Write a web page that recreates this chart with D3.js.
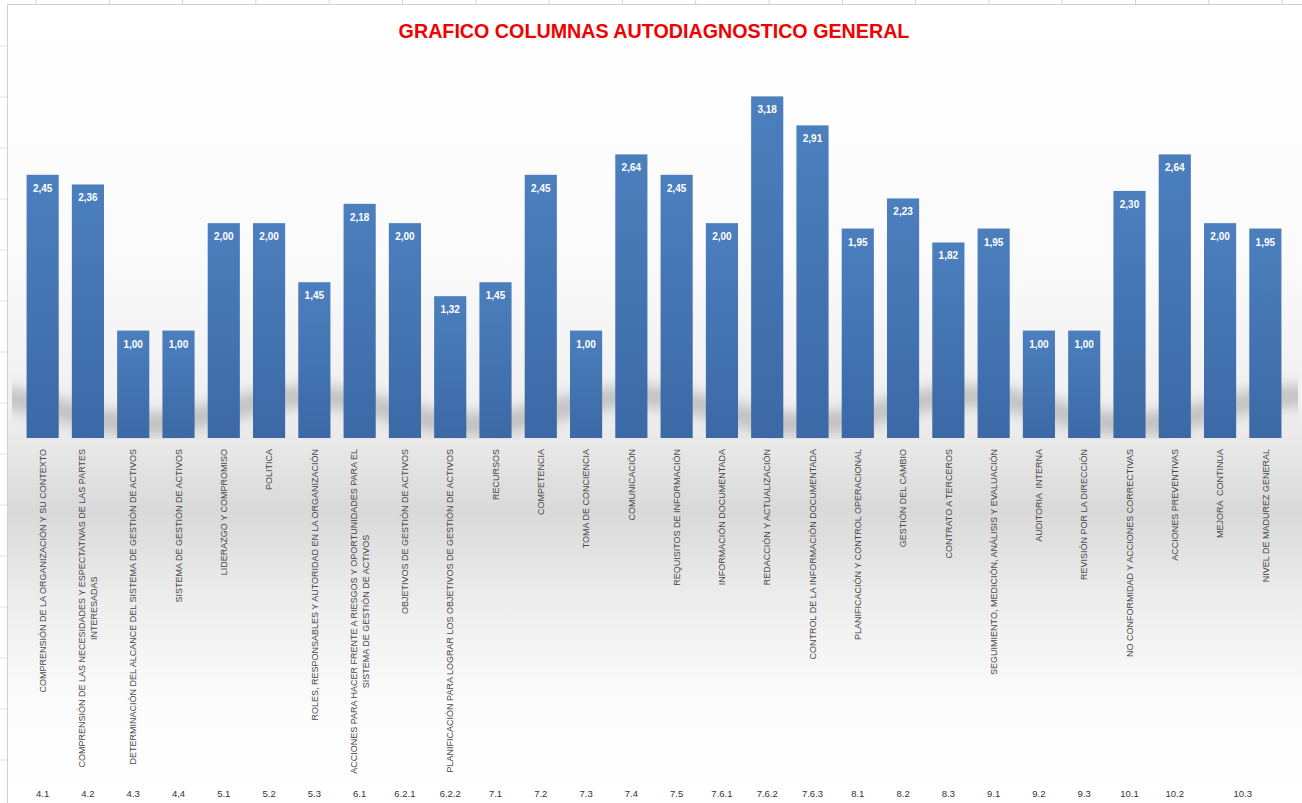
<!DOCTYPE html>
<html>
<head>
<meta charset="utf-8">
<script src="https://cdn.jsdelivr.net/npm/d3@7"></script>
<style>
  html, body { margin: 0; padding: 0; background: #fff; }
  svg text { font-family: "Liberation Sans", Arial, sans-serif; }
</style>
</head>
<body>
<div class="chart"></div>
<script>
// 차트 데이터
const categories = [
  'COMPRENSIÓN DE LA ORGANIZACIÓN Y SU CONTEXTO',
  'COMPRENSIÓN DE LAS NECESIDADES Y ESPECTATIVAS DE LAS PARTES\nINTERESADAS',
  'DETERMINACIÓN DEL ALCANCE DEL SISTEMA DE GESTIÓN DE ACTIVOS',
  'SISTEMA DE GESTIÓN DE ACTIVOS',
  'LIDERAZGO Y COMPROMISO',
  'POLITICA',
  'ROLES, RESPONSABLES Y AUTORIDAD EN LA ORGANIZACIÓN',
  'ACCIONES PARA HACER FRENTE A RIESGOS Y OPORTUNIDADES PARA EL\nSISTEMA DE GESTIÓN DE ACTIVOS',
  'OBJETIVOS DE GESTIÓN DE ACTIVOS',
  'PLANIFICACIÓN PARA LOGRAR LOS OBJETIVOS DE GESTIÓN DE ACTIVOS',
  'RECURSOS',
  'COMPETENCIA',
  'TOMA DE CONCIENCIA',
  'COMUNICACIÓN',
  'REQUISITOS DE INFORMACIÓN',
  'INFORMACIÓN DOCUMENTADA',
  'REDACCIÓN Y ACTUALIZACIÓN',
  'CONTROL DE LA INFORMACIÓN DOCUMENTADA',
  'PLANIFICACIÓN Y CONTROL OPERACIONAL',
  'GESTIÓN DEL CAMBIO',
  'CONTRATO A TERCEROS',
  'SEGUIMIENTO, MEDICIÓN, ANÁLISIS Y EVALUACIÓN',
  'AUDITORIA  INTERNA',
  'REVISIÓN POR LA DIRECCIÓN',
  'NO CONFORMIDAD Y ACCIONES CORRECTIVAS',
  'ACCIONES PREVENTIVAS',
  'MEJORA  CONTINUA',
  'NIVEL DE MADUREZ GENERAL'
];
const values = [2.45, 2.36, 1.00, 1.00, 2.00, 2.00, 1.45, 2.18, 2.00, 1.32, 1.45, 2.45, 1.00, 2.64,
                2.45, 2.00, 3.18, 2.91, 1.95, 2.23, 1.82, 1.95, 1.00, 1.00, 2.30, 2.64, 2.00, 1.95];
// 시트 셀 번호 (10.3은 마지막 두 항목 사이)
const codes = ['4.1', '4.2', '4.3', '4,4', '5.1', '5.2', '5.3', '6.1', '6.2.1', '6.2.2', '7.1', '7.2', '7.3', '7.4',
               '7.5', '7.6.1', '7.6.2', '7.6.3', '8.1', '8.2', '8.3', '9.1', '9.2', '9.3', '10.1', '10.2', '10.3'];
const title = 'GRAFICO COLUMNAS AUTODIAGNOSTICO GENERAL';
const yDomain = [0, 3.5];

const W = 1302, H = 803;
const data = categories.map((c, i) => ({ cat: c, value: values[i] }));

const x = d3.scaleBand(categories, [20, 1288]).paddingInner(0.29).paddingOuter(0.145);
const y = d3.scaleLinear(yDomain, [438, 62]);
const fmt = v => d3.format('.2f')(v).replace('.', ',');

const svg = d3.select('.chart').append('svg')
  .attr('width', W)
  .attr('height', H);

const defs = svg.append('defs');

// 배경 그라데이션
const bg = defs.append('linearGradient')
  .attr('id', 'bg').attr('x1', 0).attr('y1', 0).attr('x2', 0).attr('y2', 1);
[[0, '#ffffff'], [0.3, '#fbfbfb'], [0.5, '#f0f0f0'], [0.55, '#e8e8e8'], [0.63, '#d9d9d9'],
 [0.74, '#ededed'], [0.87, '#fcfcfc'], [1, '#ffffff']]
  .forEach(([o, c]) => bg.append('stop').attr('offset', o).attr('stop-color', c));

// 막대 그라데이션
const barGrad = defs.append('linearGradient')
  .attr('id', 'barGrad').attr('x1', 0).attr('y1', 0).attr('x2', 0).attr('y2', 1);
barGrad.append('stop').attr('offset', 0).attr('stop-color', '#4c7fbe');
barGrad.append('stop').attr('offset', 1).attr('stop-color', '#3c69a6');

defs.append('filter').attr('id', 'blur')
  .attr('x', '-10%').attr('y', '-100%').attr('width', '120%').attr('height', '300%')
  .append('feGaussianBlur').attr('stdDeviation', 7);

defs.append('clipPath').attr('id', 'plotClip')
  .append('rect').attr('x', 12).attr('y', 300).attr('width', 1286).attr('height', 139);

// 시트 격자 (상단)
svg.append('g')
  .selectAll('line')
  .data(d3.range(36, W, 73.3))
  .join('line')
    .attr('x1', d => d).attr('x2', d => d)
    .attr('y1', 0).attr('y2', 5)
    .attr('stroke', '#d4d4d4');
svg.append('g')
  .selectAll('line')
  .data(d3.range(46, H, 51))
  .join('line')
    .attr('x1', 0).attr('x2', 7)
    .attr('y1', d => d).attr('y2', d => d)
    .attr('stroke', '#e0e0e0');

// 차트 영역
svg.append('rect')
  .attr('x', 7.5).attr('y', 4.5)
  .attr('width', W).attr('height', H)
  .attr('fill', 'url(#bg)')
  .attr('stroke', '#d0d0d0');

// 막대 뒤 그림자
const wave = d3.range(0, 1320, 10).map(px => [px, 410 + 14 * Math.sin((px - 60) / 330 * 2 * Math.PI)]);
svg.append('g')
  .attr('clip-path', 'url(#plotClip)')
  .append('path')
    .attr('d', d3.line().curve(d3.curveBasis)(wave))
    .attr('fill', 'none')
    .attr('stroke', '#808080')
    .attr('stroke-width', 22)
    .attr('stroke-opacity', 0.42)
    .attr('filter', 'url(#blur)');

// 제목
svg.append('text')
  .attr('x', 654)
  .attr('y', 38)
  .attr('text-anchor', 'middle')
  .attr('font-size', '19.7px')
  .attr('font-weight', 'bold')
  .attr('fill', '#f00000')
  .text(title);

// 막대
svg.append('g')
  .selectAll('rect')
  .data(data)
  .join('rect')
    .attr('x', d => x(d.cat))
    .attr('y', d => y(d.value))
    .attr('width', x.bandwidth())
    .attr('height', d => y(0) - y(d.value))
    .attr('fill', 'url(#barGrad)');

// 데이터 레이블
svg.append('g')
  .selectAll('text')
  .data(data)
  .join('text')
    .attr('x', d => x(d.cat) + x.bandwidth() / 2)
    .attr('y', d => y(d.value) + 17)
    .attr('text-anchor', 'middle')
    .attr('font-size', '10px')
    .attr('font-weight', 'bold')
    .attr('fill', '#ffffff')
    .text(d => fmt(d.value));

// x축 레이블 (세로) - 글꼴을 먼저 지정하고 길이를 잼
const lineGap = 12;
svg.append('g')
    .attr('font-size', '9px')
    .attr('fill', '#474747')
  .selectAll('g')
  .data(categories)
  .join('g')
    .attr('transform', d => `translate(${x(d) + x.bandwidth() / 2},449) rotate(-90)`)
  .each(function (d) {
    const lines = d.split('\n');
    const g = d3.select(this);
    const off = i => (i - (lines.length - 1) / 2) * lineGap;
    const first = g.append('text')
      .attr('text-anchor', 'end')
      .attr('y', off(0))
      .attr('dy', '0.35em')
      .style('white-space', 'pre')
      .text(lines[0]);
    const len = first.node().getComputedTextLength();
    lines.slice(1).forEach((t, k) => {
      g.append('text')
        .attr('text-anchor', 'middle')
        .attr('x', -len / 2)
        .attr('y', off(k + 1))
        .attr('dy', '0.35em')
        .text(t);
    });
  });

// 하단 번호
svg.append('g')
  .selectAll('text')
  .data(codes)
  .join('text')
    .attr('x', (d, i) => i < 26
      ? x(categories[i]) + x.bandwidth() / 2
      : (x(categories[26]) + x(categories[27])) / 2 + x.bandwidth() / 2)
    .attr('y', 797)
    .attr('text-anchor', 'middle')
    .attr('font-size', '9.5px')
    .attr('fill', '#333333')
    .text(d => d);
</script>
</body>
</html>
